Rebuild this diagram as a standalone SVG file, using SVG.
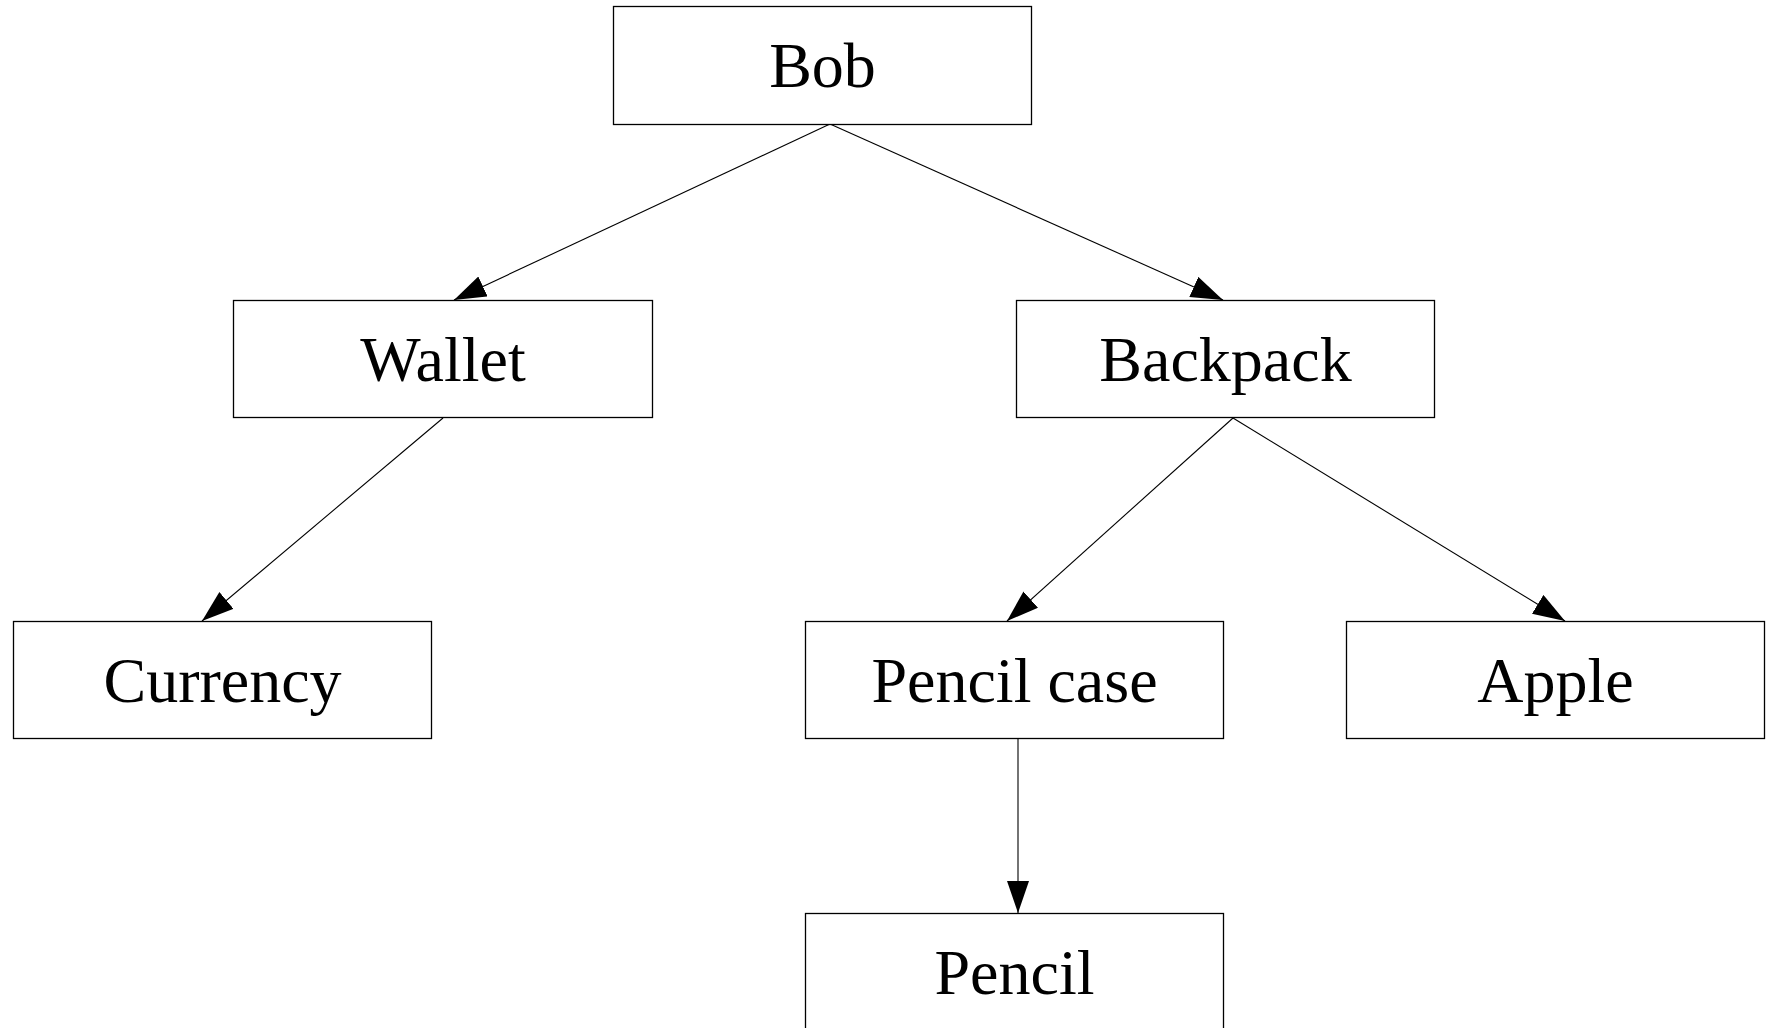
<svg xmlns="http://www.w3.org/2000/svg" width="1770" height="1028" viewBox="0 0 1770 1028">
<style>
.box{fill:#fff;stroke:#000;stroke-width:1.3}
.lbl{font-family:"Liberation Serif","Times New Roman",serif;font-size:64px;text-anchor:middle;fill:#000}
.edge{stroke:#000;stroke-width:1.1;fill:none;marker-end:url(#ah)}
</style>
<defs>
<marker id="ah" markerUnits="userSpaceOnUse" markerWidth="34" markerHeight="24" refX="32" refY="11" orient="auto">
<path d="M0,0 L32,11 L0,22 Z" fill="#000"/>
</marker>
</defs>
<rect width="1770" height="1028" fill="#fff"/>
<g id="connectors">
<line class="edge" x1="830" y1="124" x2="454" y2="300"/>
<line class="edge" x1="830" y1="124" x2="1223" y2="300"/>
<line class="edge" x1="443" y1="418" x2="202" y2="621"/>
<line class="edge" x1="1233" y1="418" x2="1007" y2="621"/>
<line class="edge" x1="1233" y1="418" x2="1565" y2="621"/>
<line class="edge" x1="1018" y1="738" x2="1018" y2="913"/>
</g>
<g id="bob"><rect class="box" x="613.5" y="6.5" width="418" height="118"/><text class="lbl" x="822.5" y="87">Bob</text></g>
<g id="wallet"><rect class="box" x="233.5" y="300.5" width="419" height="117"/><text class="lbl" x="443" y="381">Wallet</text></g>
<g id="backpack"><rect class="box" x="1016.5" y="300.5" width="418" height="117"/><text class="lbl" x="1225.5" y="381">Backpack</text></g>
<g id="currency"><rect class="box" x="13.5" y="621.5" width="418" height="117"/><text class="lbl" x="222.5" y="702">Currency</text></g>
<g id="pencil-case"><rect class="box" x="805.5" y="621.5" width="418" height="117"/><text class="lbl" x="1014.5" y="702">Pencil case</text></g>
<g id="apple"><rect class="box" x="1346.5" y="621.5" width="418" height="117"/><text class="lbl" x="1555.5" y="702">Apple</text></g>
<g id="pencil"><rect class="box" x="805.5" y="913.5" width="418" height="140"/><text class="lbl" x="1014.5" y="994">Pencil</text></g>
</svg>
